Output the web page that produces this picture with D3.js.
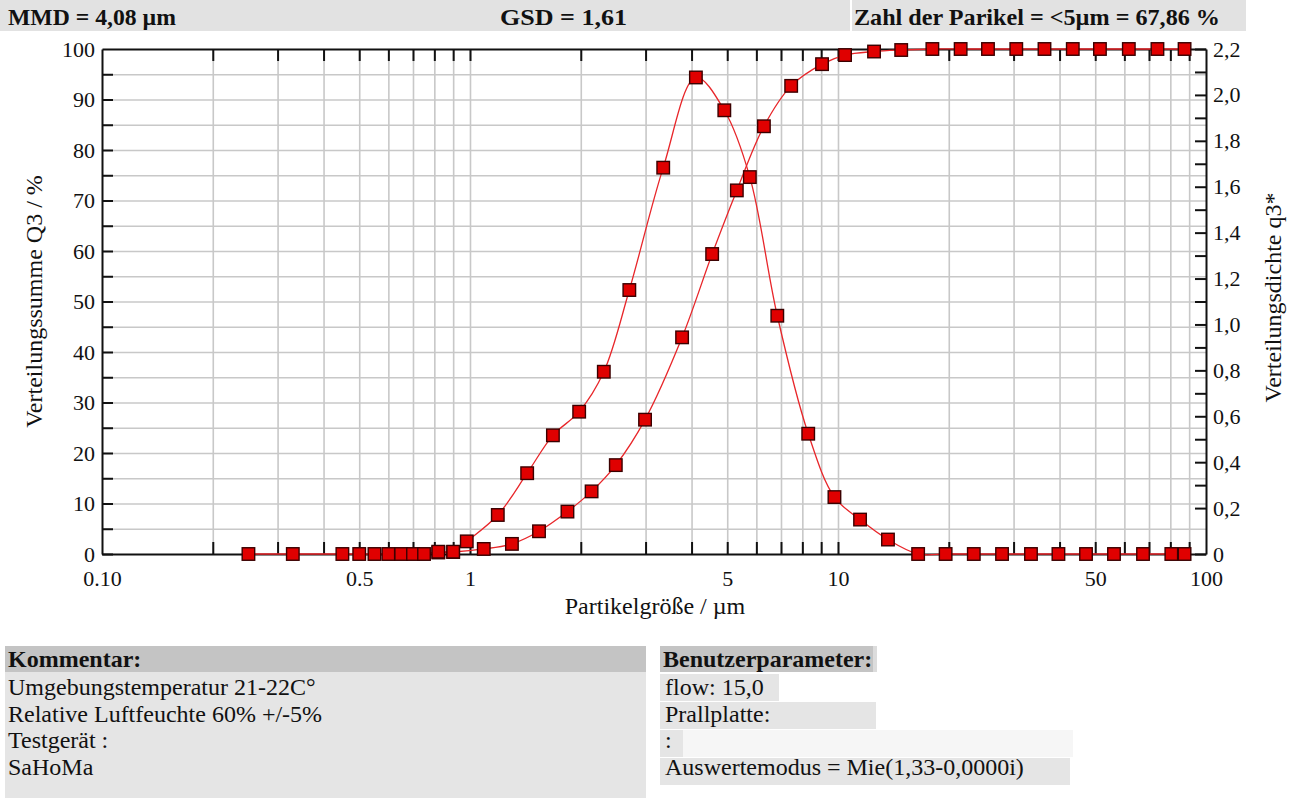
<!DOCTYPE html>
<html>

<head>
    <meta charset="utf-8">
    <title>Partikelgrößenverteilung</title>
    <script src="https://cdnjs.cloudflare.com/ajax/libs/d3/7.8.5/d3.min.js"></script>
    <style>
        body { margin: 0; background: #fff; }
        svg text { font-family: "Liberation Serif", "DejaVu Serif", serif; fill: #111; }
        .axis path, .axis line { stroke: #111; stroke-width: 2; }
        .axis text { font-size: 22px; }
        .grid line { stroke: #c8c8c8; stroke-width: 1.6; }
        .grid path { display: none; }
    </style>
</head>

<body>
    <script>
        // Dichteverteilung q3* (rechte Achse), x in µm
        var densX = [0.25, 0.33, 0.45, 0.50, 0.55, 0.60, 0.65, 0.70, 0.75, 0.82, 0.90, 0.98,
            1.19, 1.43, 1.68, 1.98, 2.31, 2.71, 3.35, 4.11, 4.91, 5.76, 6.84, 8.30, 9.78,
            11.48, 13.67, 16.51, 19.61, 23.39, 27.91, 33.45, 39.72, 47.2, 56.23, 67.43, 80.5, 87.45];
        var densQ = [0, 0, 0, 0, 0, 0, 0, 0, 0, 0.01, 0.01, 0.055,
            0.17, 0.352, 0.517, 0.62, 0.794, 1.15, 1.683, 2.076, 1.933, 1.642, 1.038, 0.524, 0.248,
            0.15, 0.063, 0, 0, 0, 0, 0, 0, 0, 0, 0, 0, 0];

        // Verteilungssumme Q3 (linke Achse), x in µm
        var cumX = [0.82, 0.90, 1.09, 1.30, 1.54, 1.84, 2.14, 2.49, 2.99, 3.77, 4.55, 5.31, 6.29,
            7.46, 9.05, 10.45, 12.53, 14.85, 18.05, 21.54, 25.56, 30.51, 36.4, 43.45, 51.5,
            61.7, 73.8, 87.45];
        var cumQ = [0.3, 0.4, 1.0, 2.0, 4.5, 8.4, 12.4, 17.6, 26.6, 42.9, 59.4, 72.0, 84.7,
            92.7, 97.0, 98.8, 99.5, 99.8, 100, 100, 100, 100, 100, 100, 100,
            100, 100, 100];

        var xTickValues = [0.1, 0.5, 1, 5, 10, 50, 100];
        var xTickLabels = ["0.10", "0.5", "1", "5", "10", "50", "100"];
        var leftTickValues = [0, 10, 20, 30, 40, 50, 60, 70, 80, 90, 100];
        var rightTickValues = [0, 0.2, 0.4, 0.6, 0.8, 1.0, 1.2, 1.4, 1.6, 1.8, 2.0, 2.2];
        var rightTickLabels = ["0", "0,2", "0,4", "0,6", "0,8", "1,0", "1,2", "1,4", "1,6", "1,8", "2,0", "2,2"];

        var headerTexts = ["MMD = 4,08 µm", "GSD = 1,61", "Zahl der Parikel = <5µm = 67,86 %"];
        var commentLines = ["Umgebungstemperatur 21-22C°", "Relative Luftfeuchte 60% +/-5%", "Testgerät :", "SaHoMa"];
        var paramLines = ["flow: 15,0", "Prallplatte:", ":", "Auswertemodus = Mie(1,33-0,0000i)"];

        var W = 1294, H = 798;
        var plot = { left: 102, right: 1206, top: 49, bottom: 554 };

        var svg = d3.select("body").append("svg")
            .attr("width", W)
            .attr("height", H);

        // Kopfzeile
        svg.append("rect").attr("x", 0).attr("y", 0).attr("width", 1246).attr("height", 31).attr("fill", "#e2e2e2");
        svg.append("rect").attr("x", 850).attr("y", 0).attr("width", 2).attr("height", 31).attr("fill", "#fff");
        var headerX = [8, 500, 854];
        var headerW = [168, 127, 366];
        headerTexts.forEach(function (t, i) {
            svg.append("text")
                .attr("x", headerX[i])
                .attr("y", 25)
                .attr("textLength", headerW[i])
                .attr("lengthAdjust", "spacingAndGlyphs")
                .style("font-size", "23px")
                .style("font-weight", "bold")
                .text(t);
        });

        // Skalen
        var x = d3.scaleLog().domain([0.1, 100]).range([plot.left, plot.right]);
        var yL = d3.scaleLinear().domain([0, 100]).range([plot.bottom, plot.top]);
        var yR = d3.scaleLinear().domain([0, 2.2]).range([plot.bottom, plot.top]);

        // alle Log-Teilstriche 0.1 ... 100
        var logTicks = [];
        [0.1, 1, 10].forEach(function (d) {
            for (var k = 1; k < 10; k++) logTicks.push(d * k);
        });
        logTicks.push(100);
        var innerLogTicks = logTicks.filter(function (v) { return v > 0.1 && v < 100; });
        var fiveSteps = d3.range(0, 101, 5);
        var tenthSteps = d3.range(0, 23).map(function (i) { return i / 10; });

        var ph = plot.bottom - plot.top, pw = plot.right - plot.left;

        // Gitter
        svg.append("g").attr("class", "grid")
            .attr("transform", "translate(0," + plot.bottom + ")")
            .call(d3.axisBottom(x).tickValues(innerLogTicks).tickSize(-ph).tickFormat(""));
        svg.append("g").attr("class", "grid")
            .attr("transform", "translate(" + plot.left + ",0)")
            .call(d3.axisLeft(yL).tickValues(fiveSteps.slice(1, -1)).tickSize(-pw).tickFormat(""));

        // Achsen
        var fmtX = function (d) {
            var i = xTickValues.findIndex(function (v) { return Math.abs(v - d) < 1e-9; });
            return i >= 0 ? xTickLabels[i] : "";
        };
        svg.append("g").attr("class", "axis")
            .attr("transform", "translate(0," + plot.bottom + ")")
            .call(d3.axisBottom(x).tickValues(logTicks).tickSizeInner(-12).tickSizeOuter(0).tickPadding(16).tickFormat(fmtX));
        svg.append("g").attr("class", "axis")
            .attr("transform", "translate(0," + plot.top + ")")
            .call(d3.axisTop(x).tickValues(logTicks).tickSizeInner(-12).tickSizeOuter(0).tickFormat(""));
        svg.append("g").attr("class", "axis")
            .attr("transform", "translate(" + plot.left + ",0)")
            .call(d3.axisLeft(yL).tickValues(fiveSteps).tickSizeInner(-11).tickSizeOuter(0).tickPadding(7)
                .tickFormat(function (d) { return leftTickValues.indexOf(d) >= 0 ? d : ""; }));
        svg.append("g").attr("class", "axis")
            .attr("transform", "translate(" + plot.right + ",0)")
            .call(d3.axisRight(yR).tickValues(tenthSteps).tickSizeInner(-11).tickSizeOuter(0).tickPadding(7)
                .tickFormat(function (d) {
                    var i = rightTickValues.findIndex(function (v) { return Math.abs(v - d) < 1e-9; });
                    return i >= 0 ? rightTickLabels[i] : "";
                }));
        svg.selectAll(".axis .tick line").filter(function (d) { return d === 0.1 || d === 100; }).remove();

        // Achsentitel
        svg.append("text")
            .attr("transform", "translate(42," + ((plot.top + plot.bottom) / 2) + ") rotate(-90)")
            .attr("text-anchor", "middle")
            .style("font-size", "24px")
            .text("Verteilungssumme Q3 / %");
        svg.append("text")
            .attr("transform", "translate(1281," + ((plot.top + plot.bottom) / 2 - 4) + ") rotate(-90)")
            .attr("text-anchor", "middle")
            .style("font-size", "24px")
            .text("Verteilungsdichte q3*");
        svg.append("text")
            .attr("x", 655)
            .attr("y", 614)
            .attr("text-anchor", "middle")
            .style("font-size", "24px")
            .text("Partikelgröße / µm");

        // Kurven
        var densData = densX.map(function (d, i) { return { x: d, y: densQ[i] }; });
        var cumData = cumX.map(function (d, i) { return { x: d, y: cumQ[i] }; });

        var lineDens = d3.line().x(function (d) { return x(d.x); }).y(function (d) { return yR(d.y); })
            .curve(d3.curveCatmullRom.alpha(0.5));
        var lineCum = d3.line().x(function (d) { return x(d.x); }).y(function (d) { return yL(d.y); })
            .curve(d3.curveCatmullRom.alpha(0.5));

        svg.append("path").datum(cumData).attr("d", lineCum)
            .attr("fill", "none").attr("stroke", "#e8262a").attr("stroke-width", 1.3);
        svg.append("path").datum(densData).attr("d", lineDens)
            .attr("fill", "none").attr("stroke", "#e8262a").attr("stroke-width", 1.3);

        var ms = 12.5;
        svg.selectAll("rect.cum").data(cumData).enter().append("rect")
            .attr("class", "cum")
            .attr("x", function (d) { return x(d.x) - ms / 2; })
            .attr("y", function (d) { return yL(d.y) - ms / 2; })
            .attr("width", ms).attr("height", ms)
            .attr("fill", "#e00000").attr("stroke", "#3a0000").attr("stroke-width", 1.4);
        svg.selectAll("rect.dens").data(densData).enter().append("rect")
            .attr("class", "dens")
            .attr("x", function (d) { return x(d.x) - ms / 2; })
            .attr("y", function (d) { return yR(d.y) - ms / 2; })
            .attr("width", ms).attr("height", ms)
            .attr("fill", "#e00000").attr("stroke", "#3a0000").attr("stroke-width", 1.4);

        // Kommentar-Block
        svg.append("rect").attr("x", 5).attr("y", 646).attr("width", 641).attr("height", 26).attr("fill", "#c4c4c4");
        svg.append("rect").attr("x", 5).attr("y", 672).attr("width", 641).attr("height", 126).attr("fill", "#e5e5e5");
        svg.append("text").attr("x", 8).attr("y", 667)
            .style("font-size", "24px").style("font-weight", "bold").text("Kommentar:");
        commentLines.forEach(function (t, i) {
            svg.append("text").attr("x", 8).attr("y", 695 + i * 26.5)
                .style("font-size", "24px").text(t);
        });

        // Benutzerparameter-Block
        svg.append("rect").attr("x", 660).attr("y", 646).attr("width", 213).attr("height", 26).attr("fill", "#c4c4c4");
        svg.append("rect").attr("x", 873).attr("y", 646).attr("width", 4).attr("height", 26).attr("fill", "#dcdcdc");
        var paramBg = [[660, 674, 119], [660, 702, 216], [660, 730, 23], [660, 758, 410]];
        paramBg.forEach(function (b) {
            svg.append("rect").attr("x", b[0]).attr("y", b[1]).attr("width", b[2]).attr("height", 27).attr("fill", "#e5e5e5");
        });
        svg.append("rect").attr("x", 683).attr("y", 730).attr("width", 390).attr("height", 27).attr("fill", "#f6f6f6");
        svg.append("text").attr("x", 663).attr("y", 667)
            .style("font-size", "24px").style("font-weight", "bold").text("Benutzerparameter:");
        paramLines.forEach(function (t, i) {
            svg.append("text").attr("x", 665).attr("y", 695 + i * 26.5)
                .style("font-size", "24px").text(t);
        });
    </script>
</body>

</html>
